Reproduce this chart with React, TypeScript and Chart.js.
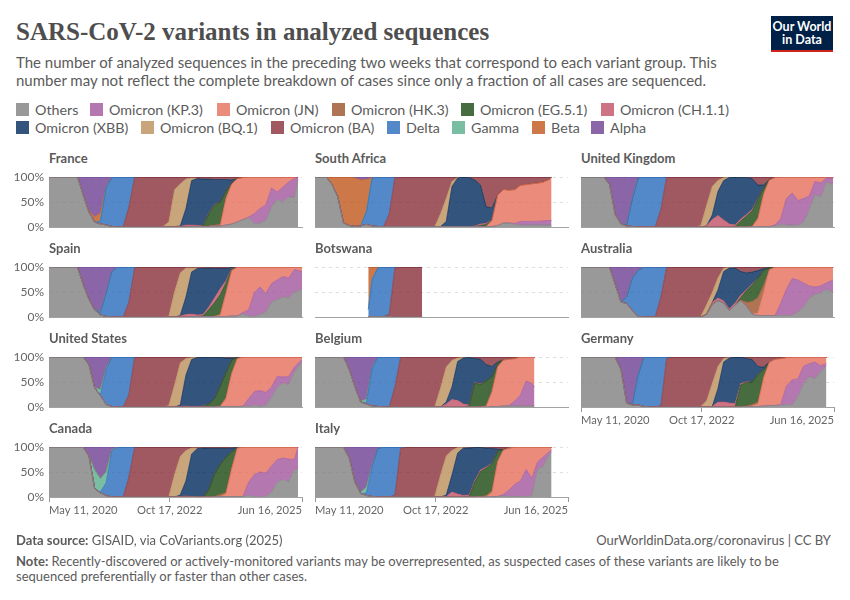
import { useEffect, useRef } from "react";
import { Chart, registerables } from "chart.js";

Chart.register(...registerables);

const FONT = "Lato, 'Noto Sans', sans-serif";

// pads a share series with zeros up to the first column it was read from
const at = (start: number, vals: number[]) => [...new Array(start).fill(0), ...vals];

// bottom of the stack first, same as the legend
const variants = ["Others", "Omicron (KP.3)", "Omicron (JN)", "Omicron (HK.3)", "Omicron (EG.5.1)", "Omicron (CH.1.1)", "Omicron (XBB)", "Omicron (BQ.1)", "Omicron (BA)", "Delta", "Gamma", "Beta", "Alpha"];
const variantColors = ["#808080", "#a2559c", "#e56e5a", "#9a5129", "#18470f", "#c15065", "#00295b", "#bc8e5a", "#883039", "#286bbb", "#58ac8c", "#c0561c", "#6d3e91"];

// days since May 11, 2020, a column is read every 42 days
const COL_DAYS = 42;
const tickDays = [0, 889, 1862];
const tickLabels = ["May 11, 2020", "Oct 17, 2022", "Jun 16, 2025"];
const none: number[] = [];

// each row is a variant, in the order of `variants`
const france = [
  [100,100,100,100,100,100,64,30,10,6,4,1,0,0,0,0,0,0,0,0,0,0,0,0,0,1,1,1,1,2,2,4,6,10,15,18,7,7,14,40,55,50,60,60,95],
  at(35, [2,20,30,30,38,15,30,30,37,5]),
  at(30, [0,53,80,85,84,80,73,63,56,22,30,20,10,3,0]),
  at(28, [1,2,3,2,1]),
  at(27, [1,24,40,45,14,2]),
  at(22, [1,1,4,3,2,1,1,1]),
  at(23, [1,33,88,92,92,68,50,45,24,6]),
  at(20, [1,10,74,85,59,5]),
  at(14, [40,100,100,100,100,100,100,90,26,14,4,2,3,4,4,5,5,5,6,3,1]),
  at(9, [5,74,98,100,100,60,1]),
  at(9, [1,1]),
  at(6, [0,3,10,16,1]),
  at(5, [0,36,67,79,72,19,1]),
];

const spain = [
  [100,100,100,100,100,100,65,35,14,4,1,0,0,0,0,0,0,0,0,0,0,0,0,0,0,1,1,1,1,1,1,1,2,2,6,2,1,5,10,30,35,40,38,50,55],
  at(34, [3,12,48,55,37,37,39,41,40,45,36]),
  at(30, [3,47,92,97,90,84,50,40,53,33,26,19,22,5,9]),
  at(29, [1,1,1]),
  at(27, [1,14,27,40,20,3]),
  at(23, [2,5,5,3,3,5,10,12,5,1]),
  at(23, [1,35,85,94,93,79,60,41,25,2]),
  at(21, [2,50,85,58,8,1]),
  at(14, [30,98,100,100,100,100,100,98,50,12,2,2,2,3,2,3,3,3,1]),
  at(9, [5,46,91,100,100,70,2]),
  at(9, [1,1]),
  none,
  at(5, [1,35,65,84,90,52,9]),
];

const southAfrica = [
  [100,100,100,85,60,8,3,1,2,5,2,1,1,1,1,1,1,1,1,1,1,1,1,1,1,1,1,1,1,1,1,1,3,8,8,5,4,4,4,4,4,4,3],
  at(35, [2,7,7,7,7,8,9,10]),
  at(31, [12,60,68,66,68,72,73,74,75,76,82,87]),
  none,
  at(29, [2,4,1]),
  at(28, [1,3,2,1]),
  at(23, [10,80,98,99,98,93,79,34,24]),
  at(21, [0,26,47,10,1]),
  at(13, [25,99,99,99,99,99,99,99,99,74,43,9,1,0,1,6,16,60,63,36,25,26,25,16,15,13,12,10,5,0]),
  at(9, [25,94,99,99,74,1]),
  none,
  at(3, [15,40,92,97,97,92,63,1]),
  at(7, [2,6,5,1]),
];

const botswana = [
  at(9, [1,1,1,1,1,0,0,0,0,0,0]),
  none, none, none, none, none, none, none,
  at(13, [4,98,100,100,100,100,100]),
  at(9, [14,74,97,99,95,2]),
  none,
  at(9, [85,25,2]),
  none,
];

const unitedKingdom = [
  [100,100,100,100,100,85,25,6,2,1,0,0,0,0,0,0,0,0,0,0,0,0,0,0,0,0,0,0,0,0,0,1,1,1,2,5,4,4,3,10,35,65,60,90,85],
  at(34, [2,12,53,64,50,47,27,26,28,8,13]),
  at(31, [15,65,93,96,83,43,32,47,43,38,9,12,2,2]),
  at(30, [2,2,1]),
  at(27, [1,12,22,30,38,12,1]),
  at(22, [2,15,23,14,6,3,4,3,3,1]),
  at(23, [9,48,79,93,96,83,74,62,27,6]),
  at(21, [3,40,57,22,6,1]),
  at(14, [35,100,100,100,100,100,100,97,56,19,7,1,0,0,1,1,3,16,16,5,1]),
  at(8, [3,55,98,100,100,100,65]),
  none,
  none,
  at(5, [15,75,94,95,44,2]),
];

const australia = [
  [100,100,100,100,100,99,65,30,27,13,1,0,0,0,0,0,0,0,0,0,0,0,5,25,33,28,13,24,33,22,6,3,3,3,3,3,3,3,10,20,38,45,48,55,50],
  at(35, [24,52,73,64,48,24,15,14,13,24]),
  at(31, [5,45,93,96,72,44,23,26,32,38,40,38,32,26]),
  at(28, [1,8,25,30,15,1]),
  at(28, [5,24,33,38,30,3]),
  at(22, [1,4,5,4,3,4,5,2,2]),
  at(24, [16,59,82,70,47,34,24,15,3,1]),
  at(21, [1,18,20,24,7,1]),
  at(14, [40,99,100,100,100,100,100,99,76,51,22,2,1,2,9,12,10,7,3,1]),
  at(8, [13,65,92,100,100,100,60,1]),
  none,
  none,
  at(5, [1,35,70,60,22,7]),
];

const unitedStates = [
  [100,100,100,100,100,100,100,85,38,23,5,1,0,0,0,0,0,0,0,0,0,0,0,0,0,0,0,0,0,0,1,1,1,1,1,2,3,2,3,20,40,48,45,70,90],
  at(34, [1,15,28,31,26,20,21,12,16,10,5]),
  at(31, [15,65,97,98,83,69,67,71,60,39,40,39,20,5]),
  at(30, [1,3,1]),
  at(27, [1,6,17,40,50,26,2]),
  at(23, [1,2,1,1,1]),
  at(23, [3,62,95,98,97,93,82,58,30,4]),
  at(21, [3,44,85,33,4]),
  at(14, [25,99,100,100,100,100,100,97,56,12,3,1,1,1,1,1,1,2,2,1]),
  at(9, [2,69,99,100,100,75,1]),
  at(8, [1,10,3]),
  none,
  at(7, [15,61,65,23]),
];

const belgium = [
  [100,100,100,100,100,100,75,40,10,6,2,1,0,0,0,0,0,0,0,0,0,0,0,0,0,0,0,0,0,0,0,1,1,2,2,2,2,2,2,2],
  at(34, [1,10,22,50,45,38]),
  at(30, [2,30,80,92,93,85,76,48,53,60]),
  none,
  at(27, [2,48,45,50,30,7]),
  at(23, [6,15,13,6,2,1,1]),
  at(23, [4,25,78,93,95,48,50,33,21,3]),
  at(21, [1,38,70,53,7,1]),
  at(14, [40,99,100,100,100,100,100,99,62,20,7,2,1,1,3,4,15,19,10,6,4,3,0]),
  at(9, [3,75,99,100,100,60,1]),
  at(8, [1,7,2]),
  at(7, [1,1]),
  at(6, [25,59,88,84,21]),
];

const germany = [
  [100,100,100,100,100,100,99,75,8,4,4,1,0,0,0,0,0,0,0,0,0,0,0,0,0,0,0,0,0,1,1,1,2,3,3,3,5,4,20,45,60,55,70,80],
  at(35, [2,35,48,34,34,25,33,11,5]),
  at(30, [1,5,55,85,93,90,55,44,42,18,13,10,17,13]),
  at(29, [1,3,4,2]),
  at(28, [44,48,45,55,15]),
  at(23, [1,10,10,8,7,3,1]),
  at(24, [27,80,92,93,53,47,45,16,5]),
  at(21, [1,12,46,44,7,1]),
  at(14, [3,97,100,100,100,100,100,99,88,53,19,3,1,0,0,3,5,19,20,10,4,3,1]),
  at(9, [3,60,98,100,100,97,3]),
  none,
  none,
  at(6, [1,25,92,93,36,1]),
];

const canada = [
  [100,100,100,100,100,100,100,82,17,8,3,0,0,0,0,0,0,0,0,0,0,0,0,0,0,0,0,0,0,0,1,1,1,1,1,3,1,0,1,10,30,35,30,55,55],
  at(35, [27,44,50,47,52,45,43,46,20,45]),
  at(31, [5,55,97,98,70,55,50,52,38,25,22,24,25,0]),
  at(29, [1,4,3,1]),
  at(28, [15,45,60,71,33,1]),
  at(23, [1,2,1]),
  at(23, [3,30,86,97,98,83,50,33,17,8]),
  at(21, [1,45,78,60,12,1]),
  at(14, [40,99,100,100,100,100,100,99,55,19,7,2,2,2,2,3,2,3,2,1]),
  at(9, [2,25,92,100,100,60,1]),
  at(8, [37,27,22,2]),
  none,
  at(7, [18,46,63,50,6]),
];

const italy = [
  [100,100,100,100,100,100,78,30,7,3,1,0,0,0,0,0,0,0,0,0,0,0,0,0,0,0,0,0,0,0,0,1,1,2,1,1,1,1,3,55,62,85,90],
  at(33, [3,13,24,31,54,35,15,18,5,5]),
  at(31, [8,70,90,83,74,68,45,62,30,20,10,5]),
  at(29, [1,3,3,1]),
  at(27, [1,30,50,55,55,20,1]),
  at(23, [1,10,6,3,3,3,3,2,1]),
  at(23, [3,34,82,95,94,66,45,38,30,5]),
  at(21, [2,43,78,49,11,1]),
  at(14, [4,97,100,100,100,100,100,98,55,18,7,1,1,2,1,1,2,3,4,5,2]),
  at(9, [5,60,97,100,100,96,3]),
  at(8, [3,12,2]),
  none,
  at(6, [22,70,90,80,37,3]),
];

const panels = [
  { name: "France", rows: france, left: 49, top: 177, firstCol: 0, lastCol: 44, lastDay: 1833 },
  { name: "South Africa", rows: southAfrica, left: 315, top: 177, firstCol: 0, lastCol: 42, lastDay: 1741 },
  { name: "United Kingdom", rows: unitedKingdom, left: 581, top: 177, firstCol: 0, lastCol: 44, lastDay: 1855 },
  { name: "Spain", rows: spain, left: 49, top: 267, firstCol: 0, lastCol: 44, lastDay: 1862 },
  { name: "Botswana", rows: botswana, left: 315, top: 267, firstCol: 9, lastCol: 19, lastDay: 788, firstDay: 392 },
  { name: "Australia", rows: australia, left: 581, top: 267, firstCol: 0, lastCol: 44, lastDay: 1855 },
  { name: "United States", rows: unitedStates, left: 49, top: 357, firstCol: 0, lastCol: 44, lastDay: 1862 },
  { name: "Belgium", rows: belgium, left: 315, top: 357, firstCol: 0, lastCol: 39, lastDay: 1615 },
  { name: "Germany", rows: germany, left: 581, top: 357, firstCol: 0, lastCol: 43, lastDay: 1806, ticks: true },
  { name: "Canada", rows: canada, left: 49, top: 447, firstCol: 0, lastCol: 44, lastDay: 1833, ticks: true },
  { name: "Italy", rows: italy, left: 315, top: 447, firstCol: 0, lastCol: 42, lastDay: 1741, ticks: true },
];

function Panel({ p }: { p: any }) {
  const ref = useRef<HTMLCanvasElement>(null);

  useEffect(() => {
    if (!ref.current) return;
    const cols: number[] = [];
    for (let c = p.firstCol; c <= p.lastCol; c++) cols.push(c);
    const dayOf = (c: number) => {
      if (c === p.lastCol) return p.lastDay;
      if (c === p.firstCol && p.firstDay) return p.firstDay;
      return c * COL_DAYS;
    };
    // shares of a column always add up to 100%
    const totals = cols.map((c) => p.rows.reduce((s: number, r: number[]) => s + (r[c] ?? 0), 0));

    const chart = new Chart(ref.current, {
      type: "line",
      data: {
        datasets: variants.map((v, i) => ({
          label: v,
          data: cols.map((c, k) => ({ x: dayOf(c), y: ((p.rows[i][c] ?? 0) / totals[k]) * 100 })),
          borderColor: variantColors[i] + "cc",
          backgroundColor: variantColors[i] + "cc",
          borderWidth: 0.8,
          pointRadius: 0,
          tension: 0,
          fill: i === 0 ? "origin" : "-1",
        })),
      },
      options: {
        responsive: false,
        animation: false,
        layout: { padding: { top: 8, right: 8, left: 0, bottom: 0 } },
        plugins: { legend: { display: false }, tooltip: { enabled: false } },
        scales: {
          x: {
            type: "linear",
            min: 0,
            max: 1862,
            afterFit: (s: any) => { s.height = 25; s.paddingLeft = 0; s.paddingRight = 0; },
            afterBuildTicks: (s: any) => { s.ticks = tickDays.map((value) => ({ value })); },
            ticks: {
              display: !!p.ticks,
              color: "#666",
              align: "inner",
              maxRotation: 0,
              padding: 2,
              font: { family: FONT, size: 11.2 },
              callback: (v: any) => tickLabels[tickDays.indexOf(Number(v))],
            },
            grid: { display: !!p.ticks, drawOnChartArea: false, drawTicks: true, tickLength: 5, color: "#999" },
            border: { display: true, color: "#a1a1a1" },
          },
          y: {
            stacked: true,
            min: 0,
            max: 100,
            afterFit: (s: any) => { s.width = 40; s.paddingTop = 0; s.paddingBottom = 0; },
            ticks: {
              display: p.left === 49,
              stepSize: 50,
              color: "#666",
              padding: 5,
              font: { family: FONT, size: 12 },
              callback: (v: any) => `${v}%`,
            },
            grid: { color: "#dddddd", drawTicks: false },
            border: { display: false, dash: [3, 4] },
          },
        },
      },
    });
    return () => chart.destroy();
  }, [p]);

  return (
    <>
      <div style={{ position: "absolute", left: p.left, top: p.top - 27, font: `700 13px ${FONT}`, color: "#5b5b5b", lineHeight: "16px" }}>{p.name}</div>
      <canvas ref={ref} width={301} height={83} style={{ position: "absolute", left: p.left - 40, top: p.top - 8, width: 301, height: 83 }} />
    </>
  );
}

const legendRows = [
  [0, 1, 2, 3, 4, 5],
  [6, 7, 8, 9, 10, 11, 12],
];
const legendLefts = [
  [16, 90, 217, 332, 461, 601],
  [16, 141, 271, 387, 452, 532, 591],
];

export default function App() {
  return (
    <div style={{ position: "absolute", left: 0, top: 0, width: 850, height: 600, background: "#fff", overflow: "hidden", fontFamily: FONT }}>
      <div style={{ position: "absolute", left: 16, top: 15, font: "700 25px 'Liberation Serif', serif", color: "#4e4e4e", whiteSpace: "nowrap", lineHeight: "34px" }}>
        SARS-CoV-2 variants in analyzed sequences
      </div>
      <div style={{ position: "absolute", left: 16, top: 53, width: 760, fontSize: 15, lineHeight: "18px", color: "#5b5b5b" }}>
        The number of analyzed sequences in the preceding two weeks that correspond to each variant group. This<br />
        number may not reflect the complete breakdown of cases since only a fraction of all cases are sequenced.
      </div>
      <div style={{ position: "absolute", left: 771, top: 16, width: 62, height: 36, background: "#002147", borderBottom: "2.5px solid #ce261e", boxSizing: "border-box", color: "#fff", font: `700 12.5px/13px ${FONT}`, textAlign: "center", paddingTop: 4 }}>
        Our World<br />in Data
      </div>

      {legendRows.map((row, r) =>
        row.map((i, k) => (
          <div key={i} style={{ position: "absolute", left: legendLefts[r][k], top: 101 + r * 18, display: "flex", alignItems: "center", whiteSpace: "nowrap", fontSize: 14.3, lineHeight: "17px", color: "#5b5b5b" }}>
            <span style={{ width: 13, height: 13, background: variantColors[i] + "cc", marginRight: 6, display: "inline-block" }} />
            {variants[i]}
          </div>
        ))
      )}

      {panels.map((p) => <Panel key={p.name} p={p} />)}

      <div style={{ position: "absolute", left: 16, top: 533, fontSize: 13, lineHeight: "15px", color: "#5b5b5b" }}>
        <b>Data source:</b> GISAID, via CoVariants.org (2025)
      </div>
      <div style={{ position: "absolute", right: 19, top: 533, fontSize: 13, lineHeight: "15px", color: "#5b5b5b" }}>
        OurWorldinData.org/coronavirus | CC BY
      </div>
      <div style={{ position: "absolute", left: 16, top: 554, width: 800, fontSize: 13, lineHeight: "15px", color: "#5b5b5b" }}>
        <b>Note:</b> Recently-discovered or actively-monitored variants may be overrepresented, as suspected cases of these variants are likely to be<br />
        sequenced preferentially or faster than other cases.
      </div>
    </div>
  );
}
